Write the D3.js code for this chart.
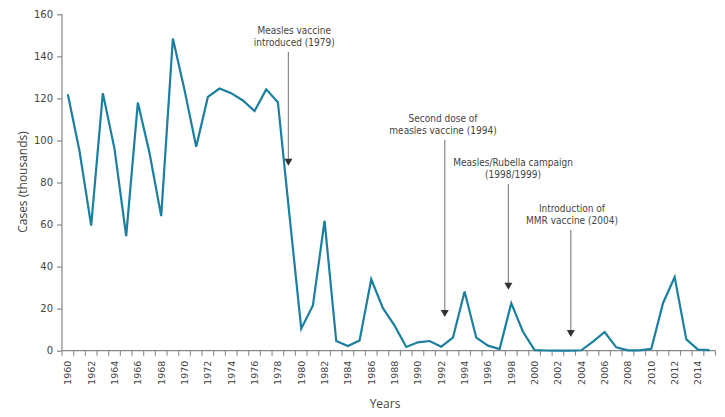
<!DOCTYPE html>
<html><head><meta charset="utf-8">
<script src="https://cdn.jsdelivr.net/npm/d3@7"></script>
<style>
body{margin:0;background:#fff;}
text{font-family:"Liberation Sans Narrow","DejaVu Sans Condensed","Open Sans",sans-serif;fill:#444;}
</style></head>
<body><svg id="c" width="725" height="417"></svg>
<script>
const years = d3.range(1960, 2016);
const cases = [122, 95, 59.5, 122.5, 96, 54.5, 118, 94, 64, 148.5,
  124, 97, 120.7, 124.7, 122.5, 119, 114, 124.3, 118.2, 64,
  10.5, 21.5, 61.8, 4.6, 2.2, 4.9, 34, 20.2, 11.9, 1.8,
  4, 4.6, 1.9, 6.2, 28.2, 6.2, 2.4, 0.8, 22.6, 9,
  0.3, 0.1, 0, 0, 0.2, 4.3, 8.9, 1.6, 0.2, 0.2,
  0.9, 22.6, 35, 5.4, 0.5, 0.3];
const yTicks = [0, 20, 40, 60, 80, 100, 120, 140, 160];
const xTickLabels = d3.range(1960, 2015, 2);
const annotations = [
  {lines:["Measles vaccine","introduced (1979)"], year:1978.9, textYear:1979.4, top:52, tipValue:88},
  {lines:["Second dose  of","measles vaccine (1994)"], year:1992.3, textYear:1992.15, top:140, tipValue:16},
  {lines:["Measles/Rubella campaign","(1998/1999)"], year:1997.75, textYear:1998.15, top:184, tipValue:29},
  {lines:["Introduction of","MMR vaccine (2004)"], year:2003.1, textYear:2003.2, top:230, tipValue:6.5}
];

const svg = d3.select("#c");
const x = d3.scaleBand().domain(years).range([62, 715.5]).padding(0);
const xc = v => x(Math.floor(v)) + x.bandwidth()/2 + (v - Math.floor(v))*x.bandwidth();
const y = d3.scaleLinear().domain([0,160]).range([350.7, 14.3]);

// y axis
const ya = svg.append("g").attr("transform","translate(62,0)")
  .call(d3.axisLeft(y).tickValues(yTicks).tickSize(5).tickPadding(4));
ya.selectAll("path,line").attr("stroke","#888").attr("stroke-width",1.2);
ya.select(".domain").attr("d","M0,"+y(160)+"V"+y(0));
ya.selectAll("text").attr("font-size","10px").style("font-family","'DejaVu Sans','Open Sans',sans-serif").attr("fill","#555");

// x axis
const xa = svg.append("g").attr("transform","translate(0,"+y(0)+")");
xa.append("line").attr("x1",62).attr("x2",715.5).attr("stroke","#888").attr("stroke-width",1.2);
const boundaries = years.map(v=>x(v)).concat([x(2015)+x.bandwidth()]);
xa.selectAll("line.t").data(boundaries).join("line").attr("class","t")
  .attr("x1",d=>d).attr("x2",d=>d).attr("y1",0).attr("y2",5).attr("stroke","#888").attr("stroke-width",1.1);
xa.selectAll("text.l").data(xTickLabels).join("text").attr("class","l")
  .attr("transform",d=>"translate("+(xc(d)+3.5)+",10) rotate(-90)")
  .attr("text-anchor","end").attr("font-size","9.5px")
  .style("font-family","'DejaVu Sans','Open Sans',sans-serif").attr("fill","#555")
  .text(d=>d);

// line
const line = d3.line().x((d,i)=>xc(years[i])).y(d=>y(d));
svg.append("path").datum(cases).attr("d",line).attr("fill","none")
  .attr("stroke","#1b7f9f").attr("stroke-width",2.2).attr("stroke-linejoin","miter");

// annotations
const ag = svg.append("g");
annotations.forEach(a=>{
  const ax = xc(a.year);
  const tx = xc(a.textYear);
  a.lines.forEach((t,i)=>{
    ag.append("text").attr("x",tx).attr("y",a.top-18+ i*12)
      .attr("text-anchor","middle").attr("font-size","10px").text(t);
  });
  const tipY = y(a.tipValue);
  ag.append("line").attr("x1",ax).attr("x2",ax).attr("y1",a.top).attr("y2",tipY-6)
    .attr("stroke","#888").attr("stroke-width",1.2);
  ag.append("path").attr("d",`M${ax-4},${tipY-7}L${ax+4},${tipY-7}L${ax},${tipY}Z`).attr("fill","#333");
});

// axis titles
svg.append("text").attr("transform","translate(27,182) rotate(-90)").attr("text-anchor","middle")
  .attr("font-size","12px").style("font-family","'Open Sans','DejaVu Sans',sans-serif").attr("fill","#444").text("Cases (thousands)");
svg.append("text").attr("x",385).attr("y",408).attr("text-anchor","middle")
  .attr("font-size","12px").style("font-family","'Open Sans','DejaVu Sans',sans-serif").attr("fill","#444").text("Years");
</script></body></html>
